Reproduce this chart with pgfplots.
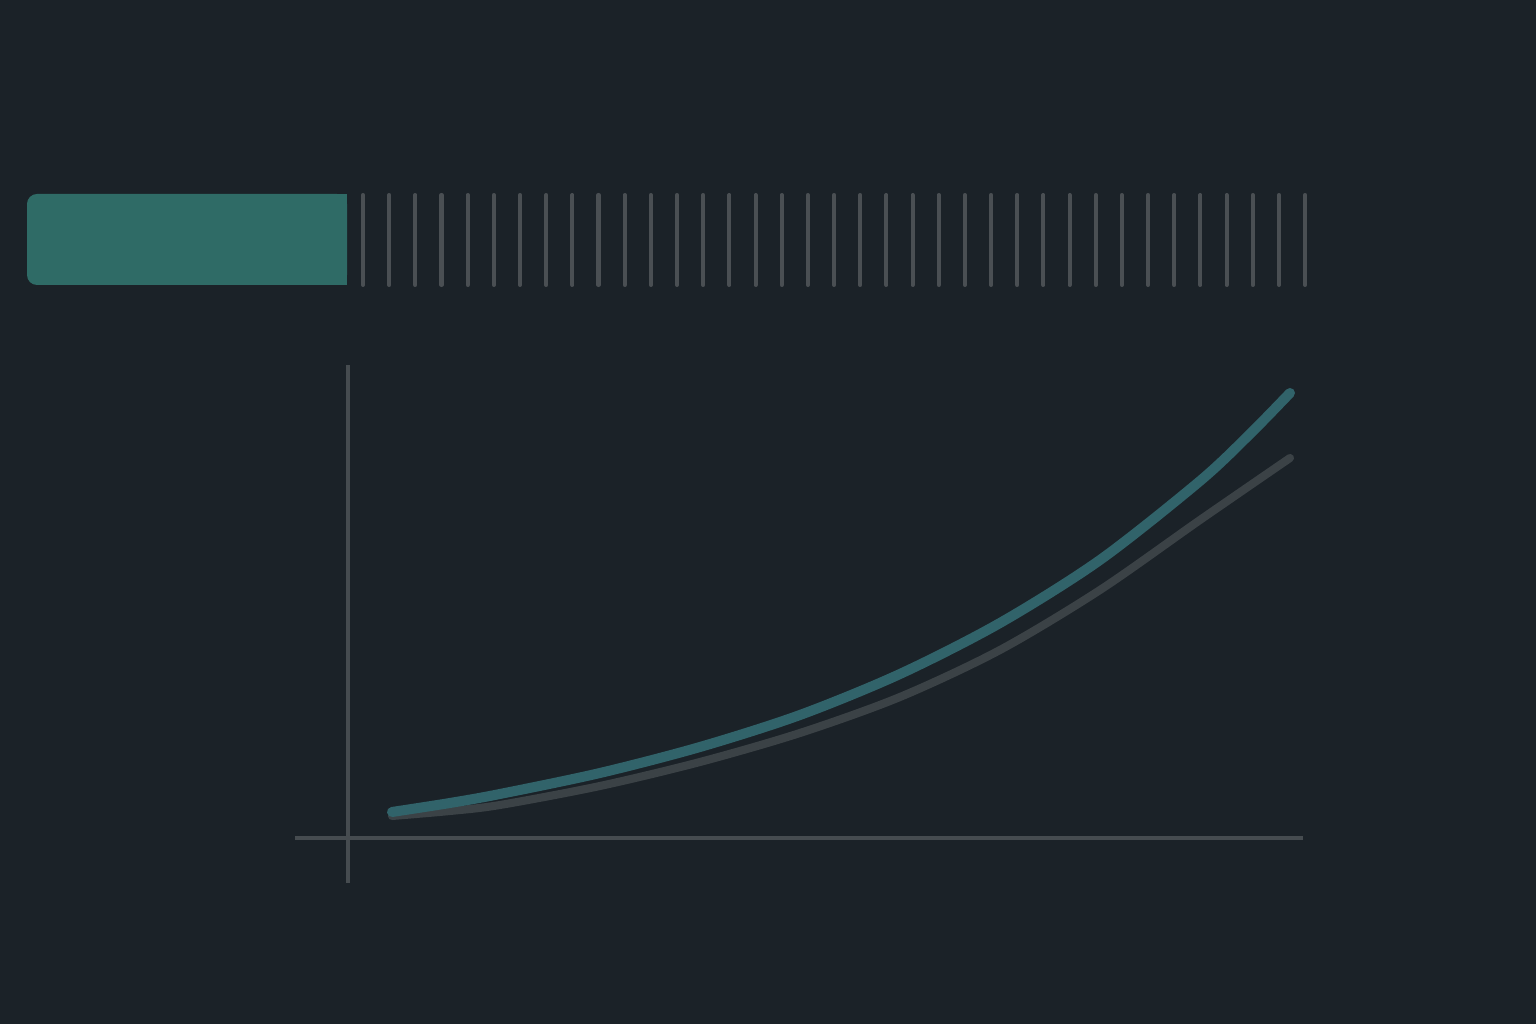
\documentclass[border=0pt]{standalone}
\usepackage{pgfplots}
\pgfplotsset{compat=1.18}

\definecolor{bgdark}{HTML}{1B2228}
\definecolor{barteal}{HTML}{2F6B66}
\definecolor{tickgray}{HTML}{4A4F53}
\definecolor{axisgray}{HTML}{464C50}
\definecolor{curveteal}{HTML}{31636A}
\definecolor{curvegray}{HTML}{3B4246}

% positions of the thin marks right of the bar
\pgfplotstableread{
x y
363.0 784
389.2 784
415.3 784
441.5 784
467.7 784
493.9 784
520.0 784
546.2 784
572.4 784
598.5 784
624.7 784
650.9 784
677.0 784
703.2 784
729.4 784
755.6 784
781.7 784
807.9 784
834.1 784
860.2 784
886.4 784
912.6 784
938.7 784
964.9 784
991.1 784
1017.3 784
1043.4 784
1069.6 784
1095.8 784
1121.9 784
1148.1 784
1174.3 784
1200.4 784
1226.6 784
1252.8 784
1279.0 784
1305.1 784
}\ticktable

\begin{document}
\begin{tikzpicture}
\begin{axis}[
    x=0.1mm, y=0.1mm,
    xmin=0, xmax=1536, ymin=0, ymax=1024,
    hide axis, clip=false,
    ]
    % background
    \addplot[fill=bgdark, draw=none] coordinates {(0,0) (1536,0) (1536,1024) (0,1024)} \closedcycle;

    % progress bar (rounded on the left only)
    \addplot[fill=barteal, draw=none, rounded corners=1mm]
        coordinates {(27,739) (347,739) (347,830) (27,830)} -- cycle;
    \addplot[fill=barteal, draw=none]
        coordinates {(200,739) (347,739) (347,830) (200,830)} -- cycle;

    % thin marks
    \addplot[draw=none, mark=none,
        error bars/.cd, y dir=both, y fixed=45, error mark=none,
        error bar style={line width=1.15pt, tickgray, line cap=round}]
        table[x=x, y=y] {\ticktable};

    % axes
    \addplot[axisgray, line width=1.05pt] coordinates {(348,659) (348,141)};
    \addplot[axisgray, line width=1.05pt] coordinates {(295,186) (1303,186)};

    % curves
    \addplot[curvegray, line width=2.3pt, smooth, line cap=round] coordinates {
        (392,208) (450,213) (500,219) (600,238) (700,262) (800,291)
        (900,327) (1000,374) (1100,434) (1200,504) (1290,566)};
    \addplot[curveteal, line width=2.85pt, smooth, line cap=round] coordinates {
        (392,212) (450,221) (500,230) (600,251) (700,277) (800,309)
        (900,350) (1000,401) (1100,464) (1200,543) (1250,590) (1290,631)};
\end{axis}
\end{tikzpicture}
\end{document}
